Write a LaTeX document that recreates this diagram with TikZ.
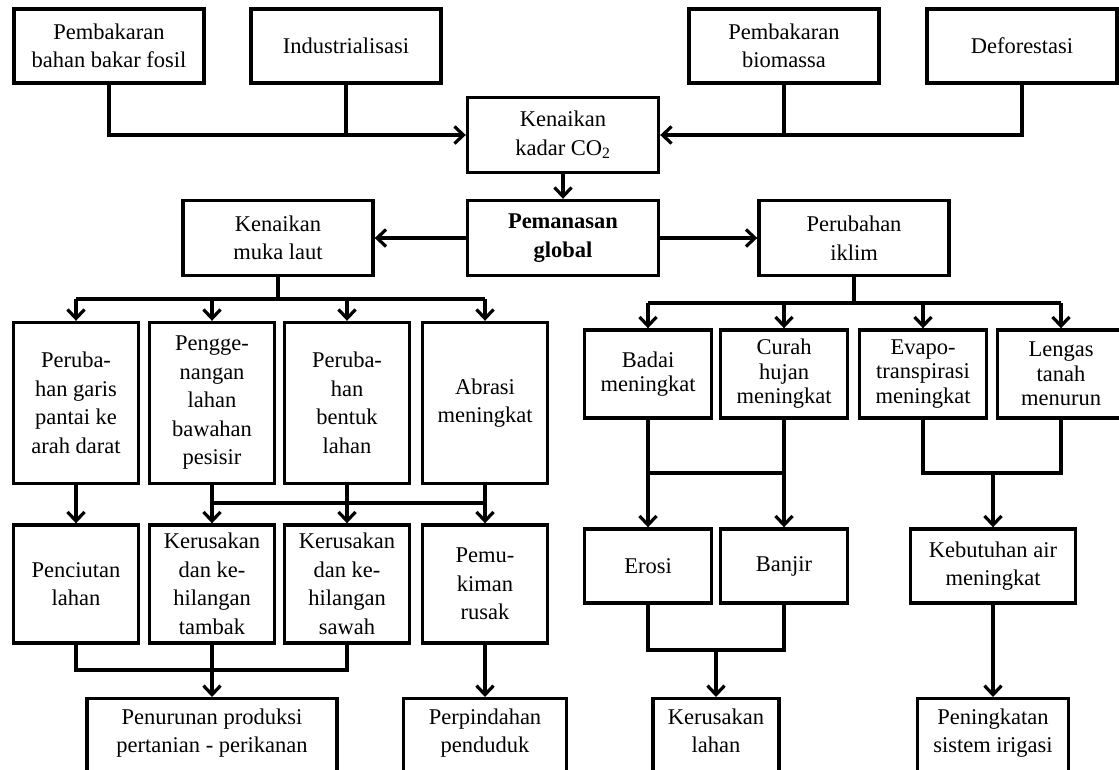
\documentclass[tikz,border=0pt]{standalone}
\usepackage{fontspec}
\setmainfont{Liberation Serif}
\usetikzlibrary{arrows.meta}

\begin{document}
\begin{tikzpicture}[x=1pt,y=-1pt,
    kotak/.style={draw,line width=3.4pt,align=center,inner sep=2pt,
      font=\fontsize{22.5}{28.5}\selectfont},
    atas/.style={kotak,minimum width=190,minimum height=74},
    tinggi/.style={kotak,minimum width=125,minimum height=161},
    tengah/.style={kotak,minimum width=125,minimum height=118},
    iklimbox/.style={kotak,minimum width=127,minimum height=88,
      font=\fontsize{22.5}{24.5}\selectfont},
    pendek/.style={kotak,minimum width=127,minimum height=74},
    bawah/.style={kotak,anchor=north,inner ysep=10,text depth=30pt},
    panah/.style={line width=3.2pt,-{Straight Barb[length=9pt,width=17pt]}},
    hubung/.style={line width=3.2pt}]
  \useasboundingbox (0,0) rectangle (1119,769);

  % penyebab
  \path
  (109,46) node[atas](fosil) {Pembakaran\\bahan bakar fosil}
  (346,46) node[atas](industri) {Industrialisasi}
  (784,46) node[atas](biomassa) {Pembakaran\\biomassa}
  (1022,46) node[atas](defor) {Deforestasi}
  (563,135) node[atas,minimum width=191,minimum height=75](co2) {Kenaikan\\kadar CO\textsubscript{2}}
  (563,238) node[atas,minimum width=191,minimum height=75](panas) {\textbf{Pemanasan}\\\textbf{global}}
  (278,238) node[atas,minimum height=75](laut) {Kenaikan\\muka laut}
  (854,238) node[atas,minimum height=75](iklim) {Perubahan\\iklim}
  ;

  % kenaikan muka laut
  \path
  (76,403) node[tinggi](garis) {Peruba-\\han garis\\pantai ke\\arah darat}
  (212,403) node[tinggi](genang) {Pengge-\\nangan\\lahan\\bawahan\\pesisir}
  (347,403) node[tinggi](bentuk) {Peruba-\\han\\bentuk\\lahan}
  (485,403) node[tinggi](abrasi) {Abrasi\\meningkat}
  (76,584) node[tengah](ciut) {Penciutan\\lahan}
  (212,584) node[tengah](tambak) {Kerusakan\\dan ke-\\hilangan\\tambak}
  (347,584) node[tengah](sawah) {Kerusakan\\dan ke-\\hilangan\\sawah}
  (485,584) node[tengah](mukim) {Pemu-\\kiman\\rusak}
  (212,697) node[bawah,minimum width=250](produksi) {Penurunan produksi\\pertanian - perikanan}
  (485,697) node[bawah,minimum width=163](pindah) {Perpindahan\\penduduk}
  ;

  % perubahan iklim
  \path
  (648,374) node[iklimbox](badai) {Badai\\meningkat}
  (784,374) node[iklimbox](curah) {Curah\\hujan\\meningkat}
  (923,374) node[iklimbox](evapo) {Evapo-\\transpirasi\\meningkat}
  (1061,374) node[iklimbox](lengas) {Lengas\\tanah\\menurun}
  (648,566) node[pendek](erosi) {Erosi}
  (784,566) node[pendek](banjir) {Banjir}
  (993,566) node[pendek,minimum width=165](air) {Kebutuhan air\\meningkat}
  (716,697) node[bawah,minimum width=126](rusak) {Kerusakan\\lahan}
  (993,697) node[bawah,minimum width=151](irigasi) {Peningkatan\\sistem irigasi}
  ;

  \coordinate (busL) at (0,299);
  \coordinate (busM) at (0,503);
  \coordinate (busB) at (0,670);
  \coordinate (busR) at (0,303);
  \coordinate (busS) at (0,473);
  \coordinate (busT) at (0,650);

  \draw[panah] (fosil.south) |- (co2.west);
  \draw[hubung] (industri.south) -- (industri |- co2.west);
  \draw[panah] (defor.south) |- (co2.east);
  \draw[hubung] (biomassa.south) -- (biomassa |- co2.east);
  \draw[panah] (co2) -- (panas);
  \draw[panah] (panas) -- (laut);
  \draw[panah] (panas) -- (iklim);

  \draw[hubung] (laut.south) -- (laut |- busL);
  \draw[hubung] (garis |- busL) -- (abrasi |- busL);
  \foreach \n in {garis,genang,bentuk,abrasi}
    \draw[panah] (\n |- busL) -- (\n.north);

  \draw[panah] (garis) -- (ciut);
  \foreach \a/\b in {genang/tambak,bentuk/sawah,abrasi/mukim}
    \draw[panah] (\a.south) -- (\b.north);
  \draw[hubung] (genang |- busM) -- (abrasi |- busM);

  \draw[hubung] (ciut.south) -- (ciut |- busB) -- (sawah |- busB) -- (sawah.south);
  \draw[panah] (tambak.south) -- (produksi.north);
  \draw[panah] (mukim.south) -- (pindah.north);

  \draw[hubung] (iklim.south) -- (iklim |- busR);
  \draw[hubung] (badai |- busR) -- (lengas |- busR);
  \foreach \n in {badai,curah,evapo,lengas}
    \draw[panah] (\n |- busR) -- (\n.north);

  \draw[panah] (badai) -- (erosi);
  \draw[panah] (curah) -- (banjir);
  \draw[hubung] (badai |- busS) -- (curah |- busS);
  \draw[hubung] (evapo.south) -- (evapo |- busS) -- (lengas |- busS) -- (lengas.south);
  \draw[panah] (air |- busS) -- (air.north);

  \draw[hubung] (erosi.south) -- (erosi |- busT) -- (banjir |- busT) -- (banjir.south);
  \draw[panah] (rusak |- busT) -- (rusak.north);
  \draw[panah] (air) -- (irigasi);
\end{tikzpicture}
\end{document}
